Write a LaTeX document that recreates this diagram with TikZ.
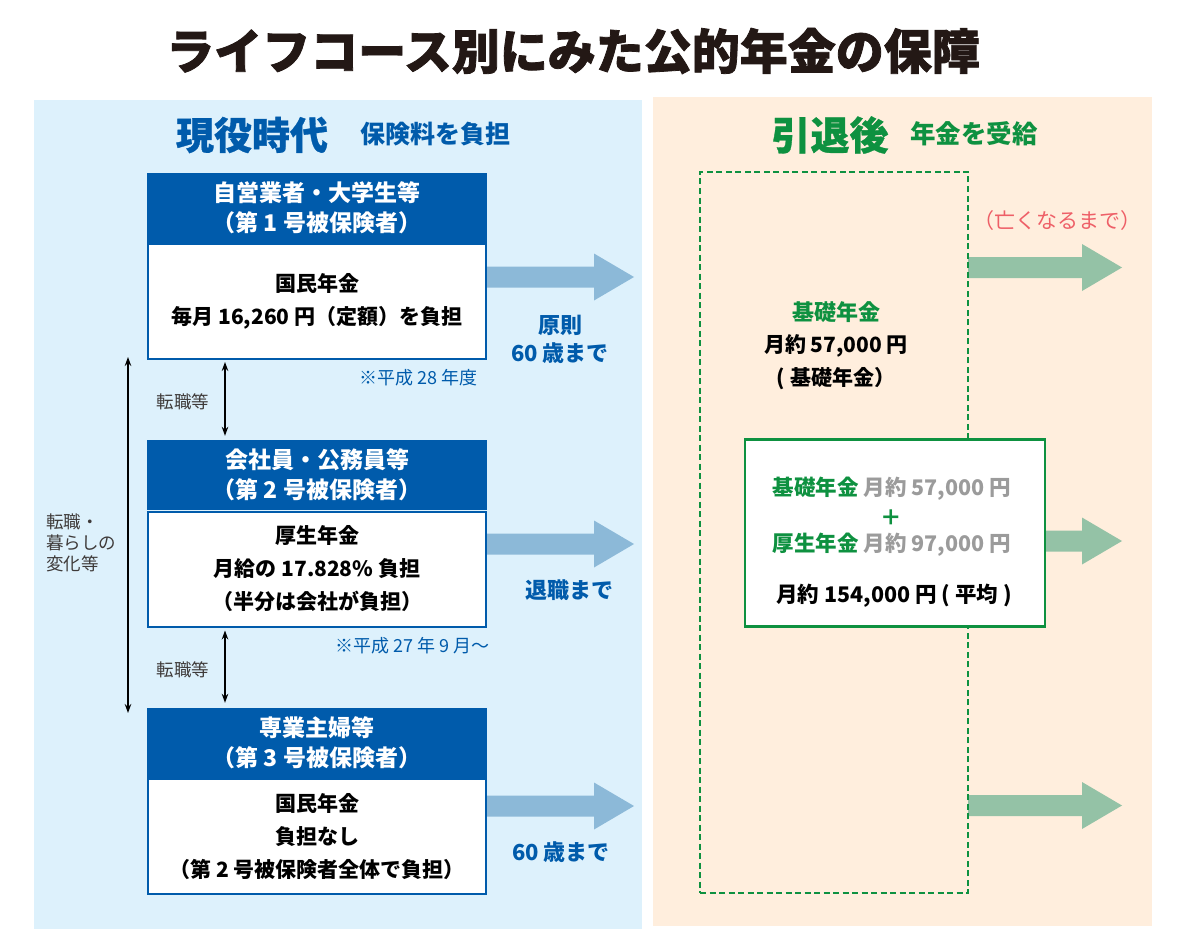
\documentclass[tikz,border=0pt]{standalone}
\usepackage{fontspec}
\setmainfont{Noto Sans CJK JP}
\newfontfamily\heavy{Noto Sans CJK JP}[BoldFeatures={FakeBold=1.6}]
\newfontfamily\semiheavy{Noto Sans CJK JP}[BoldFeatures={FakeBold=0.8}]
\usetikzlibrary{arrows.meta,calc}
\definecolor{hblue}{HTML}{005BAB}
\definecolor{lblue}{HTML}{DDF1FC}
\definecolor{peach}{HTML}{FFEEDD}
\definecolor{barrow}{HTML}{8CB9D8}
\definecolor{garrow}{HTML}{94C2A6}
\definecolor{pgreen}{HTML}{0E9140}
\definecolor{graytxt}{HTML}{3E3A39}
\definecolor{lgray}{HTML}{9B9B9B}
\definecolor{pinktxt}{HTML}{EE5F67}
\definecolor{titlec}{HTML}{231815}
\newcommand\fs[2]{\fontsize{#1}{#2}\selectfont}
\newcommand\fatarr[3]{%
  \fill[#3] ($(#1)+(0,-10.5)$) -- ($(#2)+(-40,-10.5)$) -- ($(#2)+(-40,-23.5)$) -- (#2)
    -- ($(#2)+(-40,23.5)$) -- ($(#2)+(-40,10.5)$) -- ($(#1)+(0,10.5)$) -- cycle;}
\tikzset{
  hdr/.style={fill=hblue, minimum width=340pt, minimum height=70pt, inner sep=0pt,
    text=white, align=center, font=\bfseries\fs{23}{30}},
  bodybox/.style={fill=white, draw=hblue, line width=2pt, minimum width=338pt,
    minimum height=115pt, inner sep=0pt, align=center, font=\bfseries\fs{21}{33}},
  bluelbl/.style={text=hblue, font=\bfseries\fs{22}{28}, align=center, inner sep=0pt},
  notetxt/.style={text=hblue, font=\fs{18}{20}, inner sep=0pt},
  smalltxt/.style={text=graytxt, font=\fs{17.5}{21}, align=left, inner sep=0pt},
  dbl/.style={{Stealth[length=9pt,width=6.5pt]}-{Stealth[length=9pt,width=6.5pt]}, line width=1.1pt},
  dashbox/.style={draw=pgreen, dash pattern=on 6pt off 3.5pt, line width=2.8pt,
    minimum width=268pt, minimum height=721pt, inner sep=0pt},
  gbox/.style={fill=white, draw=pgreen, line width=2.2pt, minimum width=300pt,
    minimum height=187pt, inner sep=0pt},
  gtxt/.style={font=\bfseries\fs{21.5}{26}, inner sep=0pt}
}
\begin{document}
\begin{tikzpicture}[x=1pt,y=-1pt]
\useasboundingbox (0,0) rectangle (1182,952);
\fill[white] (0,0) rectangle (1182,952);
\fill[lblue] (34,100) rectangle (642,929);
\fill[peach] (653,97) rectangle (1152,926);

% title
\node[text=titlec, font=\heavy\bfseries\fs{48}{48}, inner sep=0pt] (title) at (573,51) {ライフコース別にみた公的年金の保障};

% section headings
\node[text=hblue, font=\semiheavy\bfseries\fs{38}{40}, inner sep=0pt] (gen) at (252,135) {現役時代};
\node[text=hblue, font=\bfseries\fs{25}{28}, inner sep=0pt] (hok) at (435,134) {保険料を負担};
\node[text=pgreen, font=\semiheavy\bfseries\fs{39}{40}, inner sep=0pt] (inr) at (830,135) {引退後};
\node[text=pgreen, font=\bfseries\fs{25.5}{28}, inner sep=0pt] (jyu) at (974,134) {年金を受給};

% boxes
\node[hdr] (h1) at (317,208) {自営業者・大学生等\\（第 1 号被保険者）};
\node[bodybox] (b1) at (317,301.5) {国民年金\\毎月 16,260 円（定額）を負担};
\node[hdr] (h2) at (317,475) {会社員・公務員等\\（第 2 号被保険者）};
\node[bodybox] (b2) at (317,569) {厚生年金\\月給の 17.828\% 負担\\（半分は会社が負担）};
\node[hdr] (h3) at (317,743) {専業主婦等\\（第 3 号被保険者）};
\node[bodybox] (b3) at (317,836.5) {国民年金\\負担なし\\（第 2 号被保険者全体で負担）};

% notes
\node[notetxt, anchor=east] (n1) at (478,378) {※平成 28 年度};
\node[notetxt, anchor=east] (n2) at (490,646) {※平成 27 年 9 月～};

% blue arrows
\coordinate (bt1) at (634,277);
\coordinate (bt2) at (634,544);
\coordinate (bt3) at (634,806);
\fatarr{b1.east |- bt1}{bt1}{barrow}
\fatarr{b2.east |- bt2}{bt2}{barrow}
\fatarr{b3.east |- bt3}{bt3}{barrow}
\node[bluelbl] (l1) at (560,339) {原則\\60 歳まで};
\node[bluelbl] (l2) at (569,590) {退職まで};
\node[bluelbl] (l3) at (561,852) {60 歳まで};

% transfer arrows
\coordinate (ax) at (225,0);
\draw[dbl] ([yshift=-2pt]b1.south -| ax) -- ([yshift=4pt]h2.north -| ax);
\draw[dbl] ([yshift=-3pt]b2.south -| ax) -- ([yshift=5pt]h3.north -| ax);
\node[smalltxt] (t1) at (183,402) {転職等};
\node[smalltxt] (t2) at (183,670) {転職等};
\coordinate (la) at (128,357);
\coordinate (lb) at (128,713);
\draw[dbl] (la) -- (lb);
\node[smalltxt, anchor=west] (t3) at (46,543) {転職・\\暮らしの\\変化等};

% retirement side
\coordinate (gt1) at (1122,267.5);
\coordinate (gt2) at (1122,541);
\coordinate (gt3) at (1122,805.5);
\coordinate (dright) at (968,0);
\fatarr{dright |- gt1}{gt1}{garrow}
\fatarr{dright |- gt3}{gt3}{garrow}
\node[dashbox] (dbox) at (834,532.5) {};
\node[text=pinktxt, font=\fs{21}{24}, inner sep=0pt] (nak) at (1057,221) {（亡くなるまで）};
\node[font=\bfseries\fs{21}{32.5}, align=center, inner sep=0pt] (kiso) at (836,345.5)
  {{\color{pgreen}\fs{22}{32.5}基礎年金}\\月約 57,000 円\\( 基礎年金）};
\node[gbox] (gb) at (895,533) {};
\fatarr{gb.east |- gt2}{gt2}{garrow}
\node[gtxt] (g1) at (892,489) {{\color{pgreen}基礎年金} {\color{lgray}月約 57,000 円}};
\node[gtxt, text=pgreen] (g2) at (891,518) {＋};
\node[gtxt] (g3) at (892,545) {{\color{pgreen}厚生年金} {\color{lgray}月約 97,000 円}};
\node[gtxt] (g4) at (894,596) {月約 154,000 円 ( 平均 )};
\end{tikzpicture}
\end{document}
